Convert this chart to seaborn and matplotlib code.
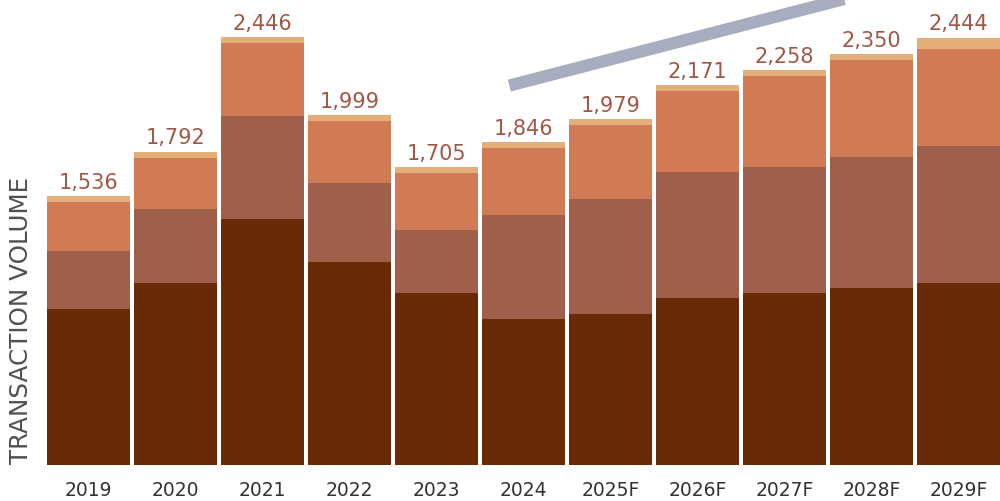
import matplotlib
matplotlib.use("Agg")
import matplotlib.pyplot as plt
import seaborn as sns
import numpy as np
import pandas as pd

years = ["2019", "2020", "2021", "2022", "2023", "2024",
         "2025F", "2026F", "2027F", "2028F", "2029F"]
seg_dark = [894, 1042, 1406, 1161, 985, 837, 865, 956, 985, 1013, 1042]
seg_medium = [330, 421, 592, 450, 359, 592, 655, 717, 717, 746, 780]
seg_orange = [278, 295, 414, 354, 327, 383, 425, 464, 522, 557, 559]
seg_cap = [34, 34, 34, 34, 34, 34, 34, 34, 34, 34, 63]
total_labels = ["1,536", "1,792", "2,446", "1,999", "1,705", "1,846",
                "1,979", "2,171", "2,258", "2,350", "2,444"]
trend_x = [4.837, 9.082]
trend_y = [2170, 2716]

col_dark = "#6A2A07"
col_medium = "#9E604A"
col_orange = "#D17B56"
col_cap = "#E4AE78"
col_label = "#A05846"
col_trend = "#A7ACBE"

sns.set_theme(style="white")
plt.rcParams['font.family'] = ['DejaVu Sans']

df = pd.DataFrame({"year": years, "dark": seg_dark, "medium": seg_medium,
                   "orange": seg_orange, "cap": seg_cap})
df["c1"] = df["dark"]
df["c2"] = df["c1"] + df["medium"]
df["c3"] = df["c2"] + df["orange"]
df["c4"] = df["c3"] + df["cap"]

fig = plt.figure(figsize=(10, 5.02), dpi=100)
ax = fig.add_axes([0.047, 0.0717, 0.953, 0.9283])

bw = 0.953
for col, c in [("c4", col_cap), ("c3", col_orange), ("c2", col_medium), ("c1", col_dark)]:
    sns.barplot(data=df, x="year", y=col, color=c, saturation=1, width=bw,
                errorbar=None, ax=ax, linewidth=0, edgecolor="none")

ax.bar_label(ax.containers[0], labels=total_labels, padding=3,
             fontsize=15, color=col_label)

ax.plot(trend_x, trend_y, color=col_trend, lw=8.8, solid_capstyle="butt",
        clip_on=False, zorder=5)

ax.set_xlim(-bw / 2, len(years) - 1 + bw / 2)
ax.set_ylim(0, 2665)
sns.despine(ax=ax, left=True, bottom=True)
ax.set_yticks([])
ax.set_xlabel("")
ax.tick_params(axis="x", length=0, pad=10.5, labelsize=13.5, labelcolor="#333333")
ax.set_ylabel("TRANSACTION VOLUME", fontsize=17.7, color="#505050")
ax.yaxis.label.set_va("center")
ax.yaxis.set_label_coords(-0.027, 0.313)

fig.savefig("out.png", dpi=100, facecolor="white")
